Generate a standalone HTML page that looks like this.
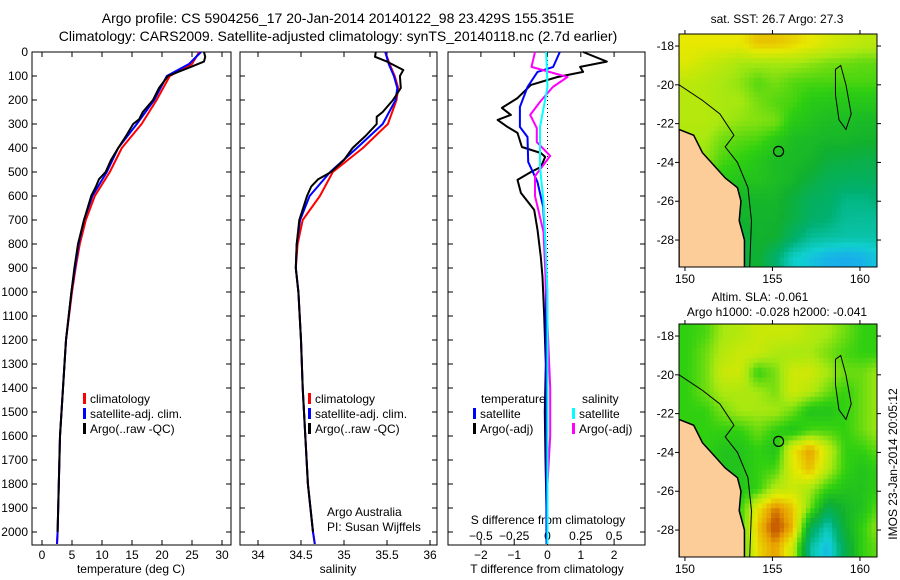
<!DOCTYPE html>
<html><head><meta charset="utf-8"><style>
body{margin:0;background:#fff}
svg{display:block;font-family:"Liberation Sans",sans-serif}
</style></head><body>
<svg id="s" width="900" height="580" viewBox="0 0 900 580">
<rect width="900" height="580" fill="#fff"/>
<text x="338" y="23" font-size="14" text-anchor="middle">Argo profile: CS 5904256_17 20-Jan-2014 20140122_98 23.429S 155.351E</text>
<text x="338" y="41" font-size="14" text-anchor="middle">Climatology: CARS2009. Satellite-adjusted climatology: synTS_20140118.nc (2.7d earlier)</text>
<text x="777" y="23" font-size="12" text-anchor="middle">sat. SST: 26.7 Argo: 27.3</text>
<text x="760" y="301" font-size="12" text-anchor="middle">Altim. SLA: -0.061</text>
<text x="777" y="316" font-size="12" text-anchor="middle">Argo h1000: -0.028 h2000: -0.041</text>
<text transform="translate(897,464) rotate(-90)" font-size="12" text-anchor="middle">IMOS 23-Jan-2014 20:05:12</text>
<text x="131" y="573" font-size="12" text-anchor="middle">temperature (deg C)</text>
<text x="338" y="573" font-size="12" text-anchor="middle">salinity</text>
<text x="547" y="573" font-size="12" text-anchor="middle">T difference from climatology</text>
<text x="548" y="524" font-size="12" text-anchor="middle">S difference from climatology</text>
<text x="327" y="516" font-size="12">Argo Australia</text>
<text x="327" y="531" font-size="12">PI: Susan Wijffels</text>
<g id="g"></g>
</svg>
<script>
// ---- profile data ----
const climDepth=[0,50,100,200,300,400,500,600,700,800,900,1000,1200,1400,1600,1800,2000,2050];
const climTemp=[26.2,25,21.3,19.1,16.6,13.3,11.3,8.8,7.3,6.3,5.6,5,4,3.5,3,2.8,2.6,2.5];
const satTemp=[26.5,24.5,20.8,18.7,15.8,12.7,10.8,8.4,7,6.1,5.5,4.9,4,3.5,3,2.8,2.6,2.5];
const argoTDepth=[0,20,40,60,100,150,200,250,280,300,350,400,450,500,530,560,600,700,800,900,1000,1200,1400,1600,1800,2000];
const argoTemp=[27,27.2,27,25,21,19.5,18.5,16.8,16.2,15.2,14,12.7,11.5,10.6,9.5,9,8.2,7,6,5.4,4.9,4,3.5,3,2.8,2.6];
const climDepthS=[0,50,100,150,200,300,400,500,600,700,800,900,1000,1200,1400,1600,1800,2000,2050];
const climSal=[35.48,35.53,35.59,35.63,35.61,35.51,35.22,34.87,34.72,34.52,34.46,34.44,34.47,34.5,34.52,34.55,34.58,34.64,34.66];
const satSal=[35.48,35.52,35.58,35.62,35.6,35.45,35.15,34.84,34.6,34.49,34.45,34.44,34.47,34.5,34.52,34.55,34.58,34.64,34.66];
const argoSDepth=[0,20,40,75,100,150,200,250,270,300,350,400,450,500,530,560,600,700,800,900,1000,1200,1400,1600,1800,2000];
const argoSal=[35.37,35.36,35.5,35.69,35.65,35.66,35.57,35.45,35.38,35.38,35.25,35.1,35.0,34.85,34.7,34.62,34.57,34.48,34.45,34.44,34.47,34.5,34.52,34.55,34.58,34.64];
const dArgoTDepth=[0,40,62,83,104,137,192,233,262,283,312,337,396,421,437,479,500,533,587,658,741,854,937,1100,1300,1500,1700,1900,2000];
const dArgoT=[1.07,1.78,0.98,1.07,0.3,-0.5,-0.9,-1.37,-1.1,-1.5,-1.2,-0.9,-0.77,-0.2,-0.07,-0.2,-0.5,-0.9,-0.8,-0.4,-0.3,-0.2,-0.15,-0.1,-0.05,-0.08,-0.06,-0.03,-0.03];
const dSatTDepth=[0,62,83,146,229,312,354,458,542,646,792,1000,1500,2050];
const dSatT=[0.37,0.17,-0.3,-0.6,-0.83,-0.83,-0.6,-0.58,-0.3,-0.13,-0.07,-0.05,-0.04,-0.03];
const dArgoSDepth=[0,62,104,146,208,262,317,375,433,517,600,750,1000,1400,1600,1800,2000];
const dArgoS=[-0.094,-0.12,0.15,0.04,-0.056,-0.13,-0.08,-0.08,0.02,-0.094,-0.094,-0.03,-0.01,0.02,0.02,0,0];
const dSatSDepth=[0,146,313,479,625,1000,2050];
const dSatS=[-0.01,0,-0.056,-0.056,-0.03,0,0];
const depthTicks=[0,100,200,300,400,500,600,700,800,900,1000,1100,1200,1300,1400,1500,1600,1700,1800,1900,2000];
const tempTicks=[0,5,10,15,20,25,30];
const salTicks=[34,34.5,35,35.5,36];
const tdTicks=[-2,-1,0,1,2];
const sdTicks=[-0.5,-0.25,0,0.25,0.5];
const sdTickLabels=["\u22120.5","\u22120.25","0","0.25","0.5"];
const tdTickLabels=["\u22122","\u22121","0","1","2"];
const lonTicks=[150,155,160];
const latTicks=[-18,-20,-22,-24,-26,-28];
// ---- map data (rows from -17.4 lat downward, 1 deg each; cols from 149.66 lon, 1 deg each) ----
const sstGrid=[
[6,6,6,6,6.5,6.5,6.3,6,5.7,5.5,5.3,5.3],
[5.8,5.5,5.3,5,5,5,5,4.8,4.6,4.5,4.4,4.4],
[5.3,5.2,5,4.8,4.3,4.6,4.3,4.2,4.2,4.2,4.2,4.2],
[5.2,5.2,5,5,4.6,4.3,4.2,3.8,3.7,3.7,3.7,3.7],
[5.2,5.2,5,4.8,4.7,4.6,3.8,3.6,3.4,3.4,3.3,3.3],
[5,5,4.5,4.3,4.2,3.8,3.4,3.3,3.2,3.2,3.1,3.1],
[5,4.8,4.2,4,3.7,3.4,3.3,3.2,2.8,2.7,2.6,2.6],
[4.8,4.2,3.8,3.6,3.6,3.4,3.2,2.8,2.4,2.3,2.3,2.3],
[4,3.6,3.2,3.2,3.2,3.2,2.8,2.3,2.2,1.8,1.8,2],
[3.2,3.1,2.7,3.1,3.1,3.1,2.7,2.2,2,1.6,1.6,1.6],
[3,3,2.6,2.7,3.1,3,2.2,1.6,1.5,1.4,1.4,1.4],
[3,3,2.2,2.6,3,2.1,1.1,0.8,0.5,0.4,0.5,0.9]];
const slaGrid=[
[4,4.2,5,5.2,5.5,5.5,5.5,5.2,5,4.5,4,4],
[4,4.5,5.2,5.5,5.5,5.1,5,5,4.6,4.2,4,4],
[4,4.5,5.5,5.6,4,4.6,5.6,5.6,5,4.5,4.5,5],
[4,4.5,5.1,5.1,5,4.6,5.6,5.2,4.5,4,4.5,5],
[4,4,4.6,5,5,5,4.5,3.6,3.6,4,4.5,5],
[4,4,4,4,4.5,4,3.6,4.2,4.2,4,4.5,5],
[4,4,3.6,3.6,4,3.6,6,7,5.5,4,4,4.5],
[4,4,3.6,3.6,4,4.2,5.8,6.6,5.2,4,3.6,4],
[4,3.6,3.2,3.6,4,5.2,5.5,5,4,3.6,3.6,4],
[4,3.2,3.2,4,6,7.3,6.5,4.5,2.5,3.2,3.6,4.5],
[4,3.2,3,4,6.5,7.8,6.8,2.5,1.2,3,4,5],
[4,3,2.6,4,6.2,7,5.5,1.5,0.6,2.5,4,4.5]];
const landLon=[149.66,150.5,151,151.5,152.3,153,153.2,153.1,153.4,153.4,149.66];
const landLat=[-22.3,-22.6,-23.5,-24,-24.8,-25.3,-26,-27,-28,-29.4,-29.4];
const shelfLon=[149.66,151,152,152.8,152.3,153,153.6,153.8,153.7];
const shelfLat=[-20,-20.8,-21.5,-22.6,-23.2,-24,-25.3,-27,-29.4];
const ridgeLon=[158.6,158.9,159.2,159.5,159.2,158.8,158.6,158.6];
const ridgeLat=[-19.2,-19.0,-20,-21.5,-22.3,-21.8,-20.5,-19.2];
const argoLon=155.35, argoLat=-23.43;

const NS='http://www.w3.org/2000/svg';
const G=document.getElementById('g');
function mk(t,a,p){const e=document.createElementNS(NS,t);for(const k in a)e.setAttribute(k,a[k]);(p||G).appendChild(e);return e;}
const y0=52,yB=545,dy=0.24;
const yD=d=>y0+d*dy;
const xT=v=>42+v*6, xS=v=>258+(v-34)*86, xTD=v=>547.5+v*33.3, xSD=v=>547.5+v*133.3;
const panels=[[32,231],[240,437],[448,645]];
panels.forEach((p,i)=>{
  const r=mk('rect',{x:p[0],y:y0,width:p[1]-p[0],height:yB-y0,fill:'none',stroke:'#000','stroke-width':1});
  
  
  depthTicks.forEach(d=>{
    mk('line',{x1:p[0],x2:p[0]+5,y1:yD(d),y2:yD(d),stroke:'#000'});
    mk('line',{x1:p[1],x2:p[1]-5,y1:yD(d),y2:yD(d),stroke:'#000'});
  });
});
depthTicks.forEach(d=>{
  const t=mk('text',{x:28,y:yD(d)+4,'font-size':12,'text-anchor':'end'});
  
  
  t.textContent=d;
});
function xticks(ticks,fx,labels,ly,top){
  ticks.forEach((v,i)=>{
    const x=fx(v);
    if(top){mk('line',{x1:x,x2:x,y1:y0,y2:y0+5,stroke:'#000'});}
    mk('line',{x1:x,x2:x,y1:yB,y2:yB-5,stroke:'#000'});
    const t=mk('text',{x:x,y:ly,'font-size':12,'text-anchor':'middle'});
    
    
    t.textContent=labels?labels[i]:v;
  });
}
xticks(tempTicks,xT,null,559,true);
xticks(salTicks,xS,null,559,true);
xticks(tdTicks,xTD,tdTickLabels,559,true);
sdTicks.forEach((v,i)=>{
  const t=mk('text',{x:xSD(v),y:540,'font-size':12,'text-anchor':'middle'});
  
  
  t.textContent=sdTickLabels[i];
});
const z=mk('line',{x1:xTD(0),x2:xTD(0),y1:y0,y2:yB,stroke:'#000','stroke-dasharray':'1,3'});


function line(depths,vals,fx,col,name){
  const pts=depths.map((d,i)=>fx(vals[i]).toFixed(1)+','+yD(d).toFixed(1)).join(' ');
  const e=mk('polyline',{points:pts,fill:'none',stroke:col,'stroke-width':2,'stroke-linejoin':'round'});
  
  
}
line(climDepth,climTemp,xT,'#f00','temp-climatology-line');
line(climDepth,satTemp,xT,'#00f','temp-satellite-line');
line(argoTDepth,argoTemp,xT,'#000','temp-argo-line');
line(climDepthS,climSal,xS,'#f00','sal-climatology-line');
line(climDepthS,satSal,xS,'#00f','sal-satellite-line');
line(argoSDepth,argoSal,xS,'#000','sal-argo-line');
line(dArgoTDepth,dArgoT,xTD,'#000','tdiff-argo-line');
line(dSatTDepth,dSatT,xTD,'#00f','tdiff-satellite-line');
line(dArgoSDepth,dArgoS,xSD,'#f0f','sdiff-argo-line');
line(dSatSDepth,dSatS,xSD,'#0ff','sdiff-satellite-line');
function leg(x,y,col,txt,name){
  const g=mk('g',{});
  
  
  if(col) mk('rect',{x:x,y:y-10,width:3,height:11,fill:col},g);
  const t=mk('text',{x:x+(col?7:0),y:y,'font-size':12},g);t.textContent=txt;
}
[[83,'t'],[308,'s']].forEach(([x,k])=>{
  leg(x,403,'#f00','climatology','legend-'+k+'-climatology');
  leg(x,418,'#00f','satellite-adj. clim.','legend-'+k+'-satellite');
  leg(x,433,'#000','Argo(..raw -QC)','legend-'+k+'-argo');
});
leg(481,403,null,'temperature','legend-temperature-header');
leg(473,418,'#00f','satellite','legend-tdiff-satellite');
leg(473,433,'#000','Argo(-adj)','legend-tdiff-argo');
leg(582,403,null,'salinity','legend-salinity-header');
leg(572,418,'#0ff','satellite','legend-sdiff-satellite');
leg(572,433,'#f0f','Argo(-adj)','legend-sdiff-argo');
// ---- maps ----
const stops=[[0,[30,150,255]],[1,[16,208,208]],[2,[0,176,112]],[3,[16,176,48]],[4,[48,208,16]],[5,[168,232,16]],[6,[232,232,0]],[7,[232,160,0]],[7.5,[200,96,0]]];
function col(v){for(let i=1;i<stops.length;i++){if(v<=stops[i][0]){const a=stops[i-1],b=stops[i],f=Math.max(0,(v-a[0])/(b[0]-a[0]));return 'rgb('+a[1].map((c,j)=>Math.round(c+(b[1][j]-c)*f)).join(',')+')';}}return 'rgb(200,96,0)';}
function sample(grid,fr,fc){
  const r=Math.max(0,Math.min(grid.length-1.001,fr)),c=Math.max(0,Math.min(grid[0].length-1.001,fc));
  const r0=Math.floor(r),c0=Math.floor(c),a=r-r0,b=c-c0;
  return grid[r0][c0]*(1-a)*(1-b)+grid[r0+1][c0]*a*(1-b)+grid[r0][c0+1]*(1-a)*b+grid[r0+1][c0+1]*a*b;
}
function drawMap(top,grid,name){
  const L=679,R=877,T=top,B=top+233;
  const mx=lon=>L+(lon-149.66)*17.5, my=lat=>T+(-17.38-lat)*19.4;
  const cid='clip'+name;
  const cp=mk('clipPath',{id:cid});mk('rect',{x:L,y:T,width:R-L,height:B-T},cp);
  const g=mk('g',{'clip-path':'url(#'+cid+')'});
  
  
  const sub=0.25;
  for(let r=0;r<grid.length;r+=sub){for(let c=0;c<grid[0].length;c+=sub){
    const v=sample(grid,r-0.5+sub/2,c-0.5+sub/2);
    const e=mk('rect',{x:mx(149.66+c).toFixed(1),y:my(-17.38-r).toFixed(1),width:(17.5*sub+0.6).toFixed(2),height:(19.4*sub+0.6).toFixed(2),fill:col(v)},g);
    
    
  }}
  const land=mk('polygon',{points:landLon.map((l,i)=>mx(l)+','+my(landLat[i])).join(' '),fill:'#fccc99',stroke:'#000','stroke-width':1.5},g);
  
  
  mk('polyline',{points:shelfLon.map((l,i)=>mx(l)+','+my(shelfLat[i])).join(' '),fill:'none',stroke:'#000','stroke-width':1},g);
  mk('polyline',{points:ridgeLon.map((l,i)=>mx(l)+','+my(ridgeLat[i])).join(' '),fill:'none',stroke:'#000','stroke-width':1},g);
  const m=mk('circle',{cx:mx(argoLon),cy:my(argoLat),r:5,fill:'none',stroke:'#000','stroke-width':1.2},g);
  
  
  const fr=mk('rect',{x:L,y:T,width:R-L,height:B-T,fill:'none',stroke:'#000'});
  
  
  lonTicks.forEach(l=>{
    const x=mx(l);
    mk('line',{x1:x,x2:x,y1:T,y2:T-4,stroke:'#000'});
    mk('line',{x1:x,x2:x,y1:B,y2:B+4,stroke:'#000'});
    const t=mk('text',{x:x,y:B+16,'font-size':12,'text-anchor':'middle'});
    
    
    t.textContent=l;
  });
  latTicks.forEach(l=>{
    const y=my(l);
    mk('line',{x1:L,x2:L-4,y1:y,y2:y,stroke:'#000'});
    mk('line',{x1:R,x2:R+4,y1:y,y2:y,stroke:'#000'});
    const t=mk('text',{x:L-5,y:y+4,'font-size':12,'text-anchor':'end'});
    
    
    t.textContent=l;
  });
}
drawMap(34,sstGrid,'sst');
drawMap(324,slaGrid,'sla');
</script>
</body></html>
